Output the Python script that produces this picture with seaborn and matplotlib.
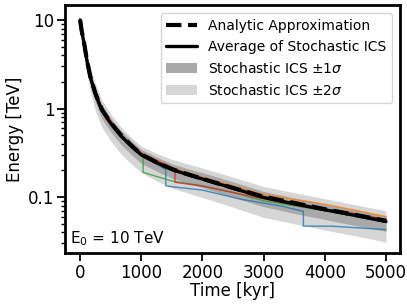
import matplotlib
matplotlib.use("Agg")
import matplotlib.pyplot as plt
import seaborn as sns
import numpy as np
from matplotlib.ticker import FixedLocator, FixedFormatter, LogLocator, NullFormatter

# -------------------data---------------------------------------------------------

t = [0, 25, 65, 110, 165, 250, 355, 500, 680, 850, 1000, 1250, 1500, 1750,
     2000, 2500, 3000, 3500, 4000, 4500, 5000]
E_mean = [10, 7.5, 5.45, 3.5, 2.29, 1.45, 0.96, 0.68, 0.48, 0.37, 0.30, 0.245,
          0.205, 0.18, 0.16, 0.126, 0.099, 0.084, 0.072, 0.062, 0.053]
E_analytic = [10, 7.6, 5.5, 3.55, 2.33, 1.48, 0.98, 0.69, 0.49, 0.375, 0.303,
              0.247, 0.207, 0.182, 0.161, 0.127, 0.101, 0.086, 0.073, 0.063, 0.054]
lo_1s = [10, 7.13, 4.9, 3.01, 1.9, 1.17, 0.77, 0.544, 0.384, 0.296, 0.24, 0.196,
         0.164, 0.144, 0.128, 0.0995, 0.078, 0.0655, 0.056, 0.0477, 0.041]
hi_1s = [10, 7.8, 5.94, 3.92, 2.61, 1.67, 1.10, 0.78, 0.552, 0.425, 0.345, 0.284,
         0.238, 0.21, 0.189, 0.149, 0.116, 0.098, 0.084, 0.072, 0.0615]
lo_2s = [10, 6.75, 4.36, 2.52, 1.56, 0.94, 0.615, 0.43, 0.30, 0.233, 0.19, 0.152,
         0.127, 0.112, 0.099, 0.077, 0.059, 0.050, 0.0425, 0.0366, 0.031]
hi_2s = [10, 8.1, 6.43, 4.38, 2.93, 1.89, 1.25, 0.87, 0.605, 0.462, 0.375, 0.311,
         0.267, 0.238, 0.213, 0.168, 0.132, 0.112, 0.096, 0.082, 0.070]

# single stochastic tracks (steps = repeated time)
t_blue = [0, 65, 165, 355, 680, 1000, 1400, 1400, 1500, 2000, 2650, 3300, 3650, 3650, 4100, 5000]
E_blue = [10, 5.5, 2.3, 0.97, 0.48, 0.30, 0.205, 0.134, 0.131, 0.12, 0.094, 0.079, 0.069, 0.047, 0.047, 0.043]
t_orange = [0, 65, 165, 355, 680, 1000, 1500, 2000, 2500, 3000, 3500, 4000, 4500, 5000]
E_orange = [10, 5.6, 2.4, 1.0, 0.5, 0.315, 0.215, 0.168, 0.134, 0.107, 0.094, 0.083, 0.071, 0.060]
t_green = [0, 65, 165, 355, 680, 1030, 1030, 1500, 2000, 2500, 3000, 3500, 4000, 4500, 5000]
E_green = [10, 5.4, 2.25, 0.95, 0.475, 0.28, 0.19, 0.152, 0.134, 0.113, 0.091, 0.080, 0.070, 0.062, 0.056]
t_red = [0, 65, 165, 355, 680, 1000, 1250, 1550, 1550, 2000, 2650, 3300, 3650, 4250, 5000]
E_red = [10, 5.5, 2.35, 0.99, 0.49, 0.315, 0.26, 0.21, 0.147, 0.133, 0.107, 0.087, 0.078, 0.070, 0.056]

# -------------------plot------------------------------------------------------------

sns.set_style("ticks", {"axes.edgecolor": "black", "text.color": "black",
                        "axes.labelcolor": "black", "xtick.color": "black",
                        "ytick.color": "black"})
plt.rcParams['font.family'] = ['DejaVu Sans']

fig, ax = plt.subplots(figsize=(4.07, 3.05), dpi=100)
fig.subplots_adjust(left=0.16, right=0.983, top=0.984, bottom=0.17)

ax.fill_between(t, lo_2s, hi_2s, color='#d6d6d6', lw=0, label=r'Stochastic ICS $\pm 2\sigma$')
ax.fill_between(t, lo_1s, hi_1s, color='#a9a9a9', lw=0, label=r'Stochastic ICS $\pm 1\sigma$')

tracks = [(t_blue, E_blue), (t_orange, E_orange), (t_green, E_green), (t_red, E_red)]
pal = sns.color_palette("tab10")
for i, (tt, ee) in enumerate(tracks):
    sns.lineplot(x=tt, y=ee, ax=ax, color=pal[i], lw=1, alpha=0.8,
                 sort=False, estimator=None)

sns.lineplot(x=t, y=E_mean, ax=ax, color='black', lw=2.4, sort=False, estimator=None,
             label='Average of Stochastic ICS')
sns.lineplot(x=t, y=E_analytic, ax=ax, color='black', lw=3, ls='--', sort=False,
             estimator=None, label='Analytic Approximation')

ax.set_yscale('log')
ax.set_xlim(-245, 5230)
ax.set_ylim(0.0233, 14.8)
ax.set_xticks([0, 1000, 2000, 3000, 4000, 5000])
ax.yaxis.set_major_locator(FixedLocator([0.1, 1, 10]))
ax.yaxis.set_major_formatter(FixedFormatter(['0.1', '1', '10']))
ax.yaxis.set_minor_locator(LogLocator(base=10, subs=np.arange(2, 10)))
ax.yaxis.set_minor_formatter(NullFormatter())

ax.set_xlabel('Time [kyr]', fontsize=12, labelpad=0)
ax.set_ylabel('Energy [TeV]', fontsize=12, labelpad=3)
ax.tick_params(axis='both', which='major', labelsize=12, length=5.5, width=1.3, pad=2)
ax.tick_params(axis='y', which='minor', length=3, width=1)
for s in ax.spines.values():
    s.set_linewidth(2)

ax.text(0.015, 0.06, r'E$_0$ = 10 TeV', transform=ax.transAxes, fontsize=11,
        va='center', ha='left')

h, l = ax.get_legend_handles_labels()
order = [l.index('Analytic Approximation'), l.index('Average of Stochastic ICS'),
         l.index(r'Stochastic ICS $\pm 1\sigma$'), l.index(r'Stochastic ICS $\pm 2\sigma$')]
ax.legend([h[i] for i in order], [l[i] for i in order], loc='upper right',
          fontsize=10, handlelength=2.2, borderaxespad=0.6, labelspacing=0.5)

fig.savefig('out.png', dpi=100)
